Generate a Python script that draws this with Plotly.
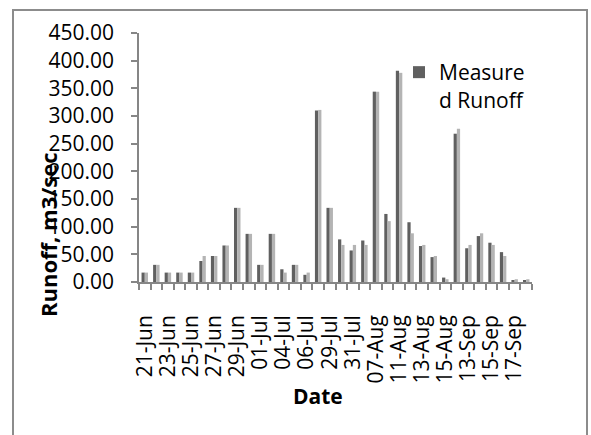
import plotly.graph_objects as go

dates = ["21-Jun", "22-Jun", "23-Jun", "24-Jun", "25-Jun", "26-Jun", "27-Jun", "28-Jun",
         "29-Jun", "30-Jun", "01-Jul", "02-Jul", "04-Jul", "05-Jul", "06-Jul", "07-Jul",
         "29-Jul", "30-Jul", "31-Jul", "01-Aug", "07-Aug", "09-Aug", "11-Aug", "12-Aug",
         "13-Aug", "14-Aug", "15-Aug", "12-Sep", "13-Sep", "14-Sep", "15-Sep", "16-Sep",
         "17-Sep", "18-Sep"]
measured = [17, 31, 17, 17, 17, 38, 47, 66, 134, 87, 31, 87, 23, 31, 13, 310,
            134, 77, 57, 75, 344, 123, 382, 108, 65, 45, 8, 268, 61, 83, 71, 54, 3, 3]
simulated = [17, 31, 17, 17, 17, 47, 47, 66, 134, 87, 31, 87, 17, 31, 17, 311,
             134, 67, 67, 67, 344, 110, 378, 88, 67, 47, 5, 277, 67, 88, 67, 47, 5, 5]
tick_text = [d if i % 2 == 0 else "" for i, d in enumerate(dates)]
y_ticks = [0, 50, 100, 150, 200, 250, 300, 350, 400, 450]

FONT = "Open Sans"
W, H = 591, 435
L, R, T, B = 139, 59, 33, 153
pw, ph = W - L - R, H - T - B


def px_x(p):
    return (p - L) / pw


def px_y(p):
    return (H - B - p) / ph


fig = go.Figure()
fig.add_trace(go.Bar(x=dates, y=measured, name="Measure<br>d Runoff",
                     marker=dict(color="#606060", line=dict(width=0))))
fig.add_trace(go.Bar(x=dates, y=simulated, name="Simulated Runoff", showlegend=False,
                     marker=dict(color="#b4b4b4", line=dict(width=0))))

fig.update_layout(
    width=W, height=H,
    margin=dict(l=L, r=R, t=T, b=B, autoexpand=False),
    paper_bgcolor="white", plot_bgcolor="white",
    barmode="group", bargap=0.44, bargroupgap=0,
    font=dict(family=FONT, size=21, color="black"),
    showlegend=True,
    legend=dict(x=px_x(399), y=px_y(52), xanchor="left", yanchor="top",
                valign="top", itemwidth=30, bgcolor="rgba(0,0,0,0)",
                font=dict(family=FONT, size=21, color="black"),
                tracegroupgap=0, itemclick=False),
    xaxis=dict(type="category", tickvals=dates, ticktext=tick_text, tickangle=-90,
               tickson="boundaries", ticks="outside", ticklen=6, tickwidth=1.5,
               tickcolor="#868686", showline=True, linecolor="#868686", linewidth=1.5,
               showgrid=False, zeroline=False, range=[-0.5, len(dates) - 0.5],
               tickfont=dict(family=FONT, size=21), ticklabelstandoff=23),
    yaxis=dict(range=[0, 450], tickvals=y_ticks, tickformat=".2f", ticks="outside",
               ticklen=6, tickwidth=1.5, tickcolor="#868686", showline=True,
               linecolor="#868686", linewidth=1.5, showgrid=False, zeroline=False,
               tickfont=dict(family=FONT, size=21), ticklabelstandoff=13),
    shapes=[dict(type="rect", xref="paper", yref="paper",
                 x0=px_x(13), x1=px_x(587), y0=px_y(445), y1=px_y(10),
                 line=dict(color="#8c8c8c", width=2), fillcolor="rgba(0,0,0,0)",
                 layer="below")],
    annotations=[
        dict(text="<b>Date</b>", xref="paper", yref="paper", x=px_x(318), y=px_y(396),
             xanchor="center", yanchor="middle", showarrow=False,
             font=dict(family=FONT, size=21)),
        dict(text="<b>Runoff, m3/sec</b>", xref="paper", yref="paper", x=px_x(48),
             y=px_y(235), xanchor="center", yanchor="middle", textangle=-90,
             showarrow=False, font=dict(family=FONT, size=22)),
    ],
)

fig.write_html("out.html")
